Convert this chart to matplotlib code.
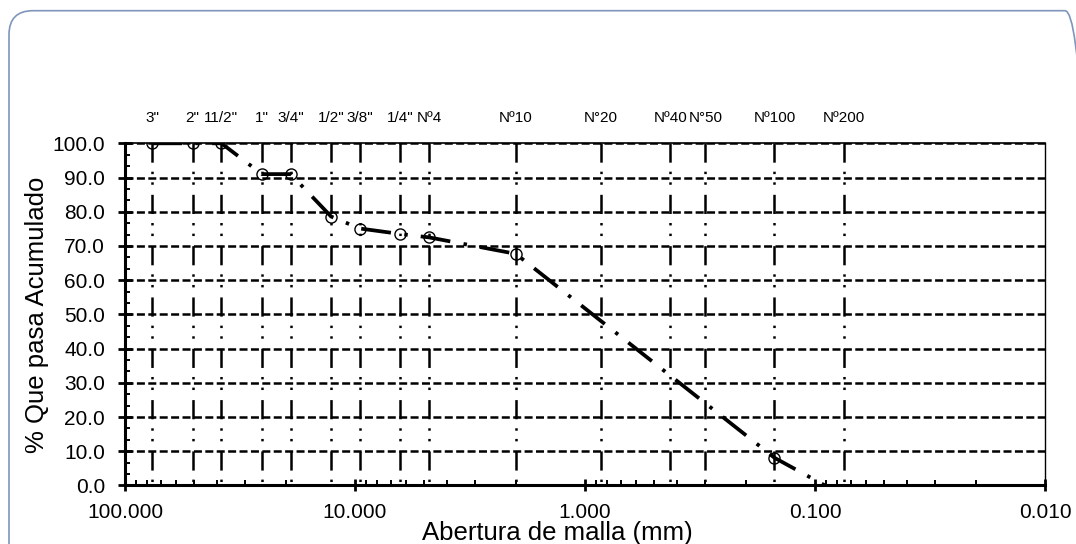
import matplotlib
matplotlib.use("Agg")
import matplotlib.pyplot as plt
from matplotlib import transforms
from matplotlib.patches import FancyBboxPatch
from matplotlib.ticker import FixedLocator, FormatStrFormatter, LogLocator, NullFormatter, MultipleLocator

plt.rcParams['font.family'] = ['Liberation Sans', 'DejaVu Sans']
plt.rcParams['lines.scale_dashes'] = False

# tamices (mm) y sus nombres, arriba del grafico
sieve_mm = [76.2, 50.8, 38.1, 25.4, 19.05, 12.7, 9.525, 6.35, 4.76, 2.0, 0.85, 0.425, 0.3, 0.15, 0.075]
sieve_names = ['3"', '2"', '11/2"', '1"', '3/4"', '1/2"', '3/8"', '1/4"', 'Nº4',
               'Nº10', 'N°20', 'Nº40', 'N°50', 'Nº100', 'Nº200']

# curva granulometrica: abertura (mm) y % que pasa
abertura = [76.2, 50.8, 38.1, 25.4, 19.05, 12.7, 9.525, 6.35, 4.76, 2.0, 0.15, 0.075]
pasa = [100.0, 100.0, 100.0, 91.0, 91.0, 78.6, 75.1, 73.5, 72.5, 67.7, 8.1, -3.0]

y_ticks = [0, 10, 20, 30, 40, 50, 60, 70, 80, 90, 100]
x_ticks = [100, 10, 1, 0.1, 0.01]

fig = plt.figure(figsize=(10.76, 5.44), dpi=100)

# marco redondeado del area del grafico (en pixeles)
border = FancyBboxPatch((9, -30), 1080, 563.3, boxstyle='round,pad=0,rounding_size=24',
                        transform=transforms.IdentityTransform(),
                        fc='none', ec='#7f95bb', lw=1.2, zorder=-1)
fig.add_artist(border)

ax = fig.add_axes([0.11617, 0.10754, 0.85502, 0.62904])
ax.set_xscale('log')
ax.set_xlim(100, 0.01)
ax.set_ylim(0, 100)

# lineas de division horizontales
for yv in y_ticks[1:]:
    ax.axhline(yv, color='black', lw=1.8, linestyle=(0, (5.76, 2.45)), zorder=1)

# lineas verticales de los tamices
for s in sieve_mm:
    ax.plot([s, s], [100, 0], color='black', lw=1.8,
            linestyle=(0, (13.8, 6.5, 1.75, 5.9, 1.75, 7.25)), zorder=2)

ax.plot(abertura, pasa, color='black', lw=2.7, linestyle=(0, (21.6, 9.7, 2.5, 9.4)),
        marker='o', ms=8, mfc='none', mec='black', mew=1.0, zorder=3)

# nombres de los tamices
tr = transforms.blended_transform_factory(ax.transData, fig.transFigure)
for s, name in zip(sieve_mm, sieve_names):
    ax.text(s, 0.7763, name, transform=tr, ha='center', va='baseline', fontsize=11, clip_on=False)

ax.spines['left'].set_linewidth(2.2)
ax.spines['bottom'].set_linewidth(2.2)
ax.spines['top'].set_linewidth(1.2)
ax.spines['right'].set_linewidth(1.0)

ax.xaxis.set_major_locator(FixedLocator(x_ticks))
ax.xaxis.set_major_formatter(FormatStrFormatter('%.3f'))
ax.xaxis.set_minor_locator(LogLocator(base=10, subs=[2, 3, 4, 5, 6, 7, 8, 9], numticks=20))
ax.xaxis.set_minor_formatter(NullFormatter())
ax.tick_params(axis='x', which='major', direction='inout', length=8.6, width=2, pad=8, labelsize=15, top=False)
ax.tick_params(axis='x', which='minor', direction='in', length=3.6, width=1.4, top=False)

ax.yaxis.set_major_locator(FixedLocator(y_ticks))
ax.yaxis.set_major_formatter(FormatStrFormatter('%.1f'))
ax.yaxis.set_minor_locator(MultipleLocator(10 / 3))
ax.tick_params(axis='y', which='major', direction='inout', length=10, width=2, pad=9.4, labelsize=15, right=False)
ax.tick_params(axis='y', which='minor', direction='in', length=3.6, width=1.4, right=False)

fig.text(557 / 1076, 4 / 544, 'Abertura de malla (mm)', ha='center', va='baseline', fontsize=18.5)
fig.text(37 / 1076, (544 - 314.5) / 544, '% Que pasa Acumulado', rotation=90,
         ha='center', va='center', fontsize=18.5)

fig.savefig('out.png', dpi=100)
